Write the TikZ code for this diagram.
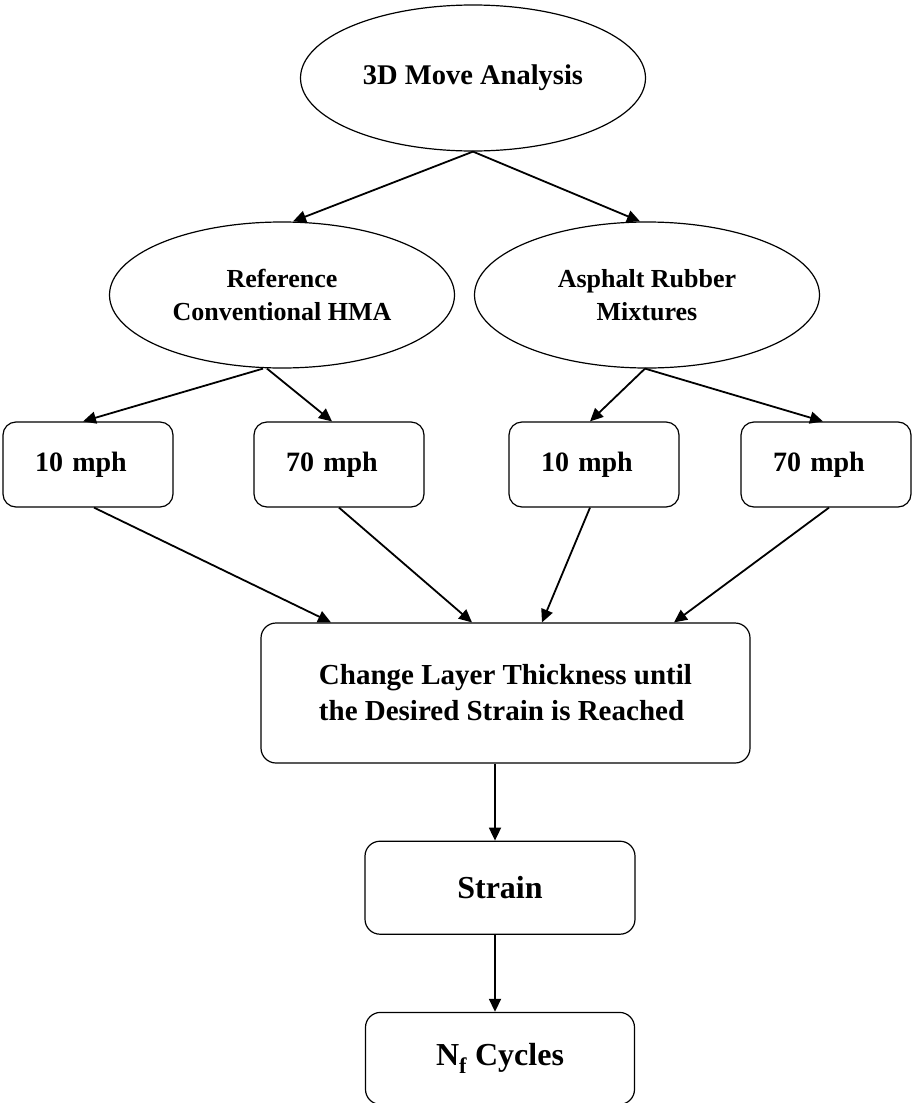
\documentclass[tikz,border=0pt]{standalone}
\usepackage{fontspec}
\setmainfont{Liberation Serif}
\usetikzlibrary{arrows.meta, positioning, shapes.geometric}

\begin{document}
\begin{tikzpicture}[
    x=1pt, y=-1pt,
    oval/.style={draw, ellipse, line width=1.2pt, minimum width=345pt, minimum height=146pt,
                 align=center, font=\fontsize{26}{33}\selectfont\bfseries},
    speed/.style={draw, rounded corners=13pt, line width=1.2pt, minimum height=85pt,
                  text width=106pt, inner xsep=32pt, align=left,
                  font=\fontsize{28}{34}\selectfont\bfseries},
    stepbox/.style={draw, rounded corners=15pt, line width=1.2pt, align=center,
                    font=\fontsize{32}{38}\selectfont\bfseries},
    link/.style={-{Triangle[length=13pt, width=12pt]}, line width=1.8pt}
  ]
    \useasboundingbox (0,0) rectangle (916,1103);
    \node[oval, font=\fontsize{28.5}{34}\selectfont\bfseries] (move) at (473,78) {3D Move Analysis};
    \node[oval] (ref) at (282,295) {Reference\\Conventional HMA};
    \node[oval] (ar) at (647,295) {Asphalt Rubber\\Mixtures};
    \node[speed] (ref10) at (88,464.5) {10 mph};
    \node[speed] (ref70) at (339,464.5) {70 mph};
    \node[speed] (ar10) at (594,464.5) {10 mph};
    \node[speed] (ar70) at (826,464.5) {70 mph};
    \node[stepbox, minimum width=489pt, minimum height=140pt, align=left,
          font=\fontsize{29}{36}\selectfont\bfseries] (change) at (505.5,693)
          {Change Layer Thickness until\\the Desired Strain is Reached};
    \node[stepbox, minimum width=270pt, minimum height=93pt, below=77pt of change, xshift=-5.5pt] (strain) {Strain};
    \node[stepbox, minimum width=269pt, minimum height=92pt, below=77pt of strain] (cycles) {N\textsubscript{f} Cycles};
    \draw[link] (move.south) -- ([xshift=11pt]ref.north);
    \draw[link] (move.south) -- ([xshift=-7pt]ar.north);
    \draw[link] ([xshift=-19pt]ref.south) -- ([xshift=-5pt]ref10.north);
    \draw[link] ([xshift=-15pt]ref.south) -- ([xshift=-7pt]ref70.north);
    \draw[link] ([xshift=-2pt]ar.south) -- ([xshift=-4pt]ar10.north);
    \draw[link] ([xshift=-2pt]ar.south) -- ([xshift=-3pt]ar70.north);
    \draw[link] ([xshift=6pt]ref10.south) -- ([xshift=-174.5pt]change.north);
    \draw[link] (ref70.south) -- ([xshift=-33.5pt]change.north);
    \draw[link] ([xshift=-4pt]ar10.south) -- ([xshift=36.5pt]change.north);
    \draw[link] ([xshift=3pt]ar70.south) -- ([xshift=168.5pt]change.north);
    \draw[link] ([xshift=-10.5pt]change.south) -- ([xshift=-5pt]strain.north);
    \draw[link] ([xshift=-5pt]strain.south) -- ([xshift=-5pt]cycles.north);
  \end{tikzpicture}
\end{document}
